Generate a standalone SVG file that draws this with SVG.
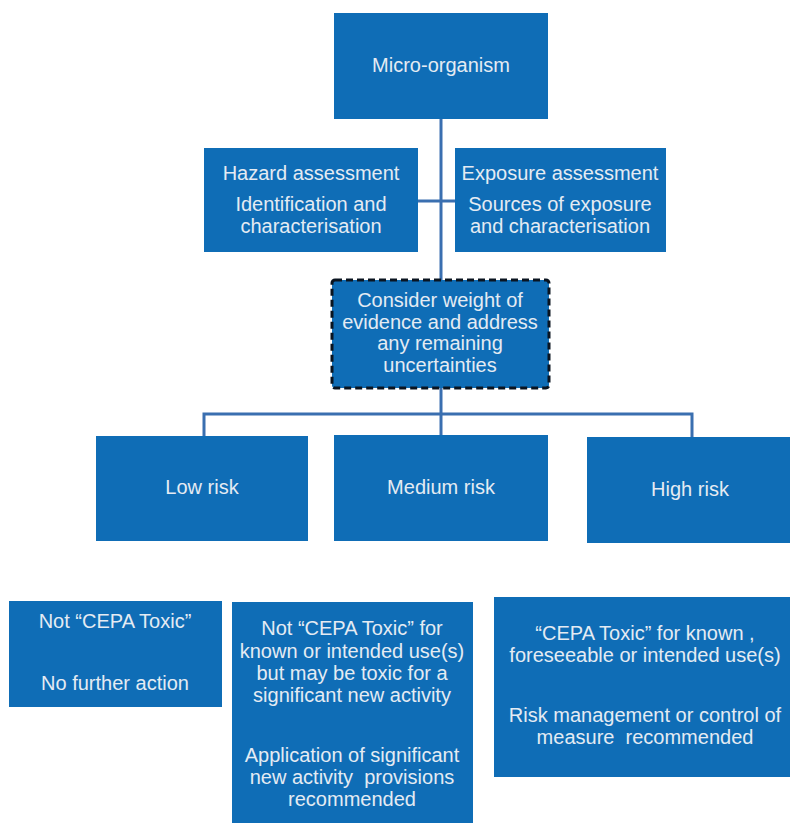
<svg xmlns="http://www.w3.org/2000/svg" width="790" height="823" viewBox="0 0 790 823">
  <style>
    .box { fill: #0f6db6; }
    .dash { fill: #0f6db6; stroke: #0a1420; stroke-width: 3; stroke-dasharray: 7 4; }
    .lbl { font-family: "Liberation Sans", Arial, sans-serif; font-size: 20px; fill: #e4ebf3; text-anchor: middle; white-space: pre; }
    .conn { fill: none; stroke: #3a6fb0; stroke-width: 3; }
  </style>
  <rect width="790" height="823" fill="#ffffff"/>

  <g id="connectors">
    <line class="conn" x1="441" y1="119" x2="441" y2="280"/>
    <line class="conn" x1="418" y1="201" x2="455" y2="201"/>
    <line class="conn" x1="441" y1="388" x2="441" y2="435"/>
    <polyline class="conn" points="204,436 204,414 692,414 692,437"/>
  </g>

  <g id="micro-organism">
    <rect class="box" x="334" y="13" width="214" height="106"/>
    <text class="lbl" x="441" y="72">Micro-organism</text>
  </g>

  <g id="hazard">
    <rect class="box" x="204" y="148" width="214" height="104"/>
    <text class="lbl" x="311" y="180">Hazard assessment</text>
    <text class="lbl" x="311" y="211">Identification and</text>
    <text class="lbl" x="311" y="233">characterisation</text>
  </g>

  <g id="exposure">
    <rect class="box" x="455" y="148" width="211" height="104"/>
    <text class="lbl" x="560" y="180">Exposure assessment</text>
    <text class="lbl" x="560" y="211">Sources of exposure</text>
    <text class="lbl" x="560" y="233">and characterisation</text>
  </g>

  <g id="weight-of-evidence">
    <rect class="dash" x="332" y="280" width="217" height="108" rx="3"/>
    <text class="lbl" x="440" y="307">Consider weight of</text>
    <text class="lbl" x="440" y="329">evidence and address</text>
    <text class="lbl" x="440" y="350">any remaining</text>
    <text class="lbl" x="440" y="372">uncertainties</text>
  </g>

  <g id="low-risk">
    <rect class="box" x="96" y="436" width="212" height="105"/>
    <text class="lbl" x="202" y="494">Low risk</text>
  </g>

  <g id="medium-risk">
    <rect class="box" x="334" y="435" width="214" height="106"/>
    <text class="lbl" x="441" y="494">Medium risk</text>
  </g>

  <g id="high-risk">
    <rect class="box" x="587" y="437" width="203" height="106"/>
    <text class="lbl" x="690" y="496">High risk</text>
  </g>

  <g id="outcome-low">
    <rect class="box" x="9" y="601" width="213" height="106"/>
    <text class="lbl" x="115" y="628">Not “CEPA Toxic”</text>
    <text class="lbl" x="115" y="690">No further action</text>
  </g>

  <g id="outcome-medium">
    <rect class="box" x="232" y="602" width="241" height="221"/>
    <text class="lbl" x="352" y="635">Not “CEPA Toxic” for</text>
    <text class="lbl" x="352" y="658">known or intended use(s)</text>
    <text class="lbl" x="352" y="680">but may be toxic for a</text>
    <text class="lbl" x="352" y="702">significant new activity</text>
    <text class="lbl" x="352" y="762">Application of significant</text>
    <text class="lbl" x="352" y="784">new activity  provisions</text>
    <text class="lbl" x="352" y="806">recommended</text>
  </g>

  <g id="outcome-high">
    <rect class="box" x="494" y="597" width="296" height="180"/>
    <text class="lbl" x="645" y="640">“CEPA Toxic” for known ,</text>
    <text class="lbl" x="645" y="662">foreseeable or intended use(s)</text>
    <text class="lbl" x="645" y="722">Risk management or control of</text>
    <text class="lbl" x="645" y="744">measure  recommended</text>
  </g>
</svg>
